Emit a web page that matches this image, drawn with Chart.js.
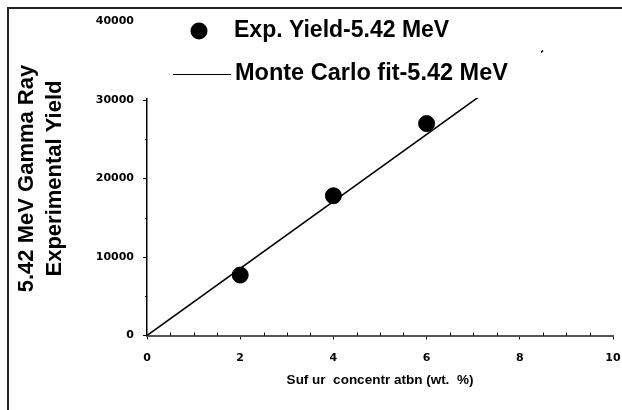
<!DOCTYPE html>
<html>
<head>
<meta charset="utf-8">
<script src="https://cdn.jsdelivr.net/npm/chart.js@4.4.1/dist/chart.umd.min.js"></script>
<style>
  html, body { margin: 0; padding: 0; background: #fff; }
  #wrap { width: 622px; height: 410px; position: relative; }
</style>
</head>
<body>
<div id="wrap"><canvas id="c" width="622" height="410"></canvas></div>
<script>
// Measured yields of the 5.42 MeV gamma line vs. sulfur content
const sulfurWt = [2, 4, 6];
const expYield = [7700, 17800, 27000];

// Monte Carlo fit line end points
const fitX = [0, 8.5];
const fitY = [0, 36300];

// Axis tick values
const xTicks = [0, 2, 4, 6, 8, 10];
const yTicks = [0, 10000, 20000, 30000, 40000];
const xMinorStep = 0.5;
const yMinorStep = 5000;

const seriesNames = ['Exp. Yield-5.42 MeV', 'Monte Carlo fit-5.42 MeV'];
const yTitle = ['5.42 MeV Gamma Ray', 'Experimental Yield'];
const xTitle = 'Suf ur  concentr atbn (wt.  %)';

const tickFont = { family: 'DejaVu Sans', weight: 'bold', size: 11 };
const bigFont = '"Liberation Sans", Arial, sans-serif';

// Small minor tick marks along both axes
const minorTicks = {
  id: 'minorTicks',
  beforeDatasetsDraw(chart) {
    const { ctx, scales: { x, y } } = chart;
    ctx.save();
    ctx.strokeStyle = '#000';
    ctx.lineWidth = 1;
    ctx.beginPath();
    for (let v = x.min; v <= x.max + 1e-9; v += xMinorStep) {
      if (xTicks.includes(v)) continue;
      const px = Math.round(x.getPixelForValue(v)) + 0.5;
      ctx.moveTo(px, y.bottom);
      ctx.lineTo(px, y.bottom - 3);
    }
    for (let v = y.min; v <= y.max + 1e-9; v += yMinorStep) {
      if (yTicks.includes(v)) continue;
      const py = Math.round(y.getPixelForValue(v)) + 0.5;
      ctx.moveTo(x.left, py);
      ctx.lineTo(x.left - 2, py);
    }
    ctx.stroke();
    ctx.restore();
  }
};

// Legend panel with an opaque background sitting over the upper plot
const legendPanel = {
  id: 'legendPanel',
  afterDatasetsDraw(chart) {
    const { ctx } = chart;
    ctx.save();
    ctx.fillStyle = '#fff';
    ctx.fillRect(139, 10, 541 - 139, 98 - 10);

    ctx.fillStyle = '#000';
    ctx.beginPath();
    ctx.arc(199, 31, 8.5, 0, Math.PI * 2);
    ctx.fill();

    ctx.strokeStyle = '#000';
    ctx.lineWidth = 1;
    ctx.beginPath();
    ctx.moveTo(173, 74.5);
    ctx.lineTo(231, 74.5);
    ctx.stroke();

    ctx.font = 'bold 23px ' + bigFont;
    ctx.textBaseline = 'middle';
    ctx.textAlign = 'left';
    ctx.fillText(seriesNames[0], 234, 31);
    ctx.font = 'bold 23.5px ' + bigFont;
    ctx.fillText(seriesNames[1], 235, 74);
    ctx.restore();
  }
};

// Outer frame lines at the top and left
const frame = {
  id: 'frame',
  afterDraw(chart) {
    const { ctx } = chart;
    ctx.save();
    ctx.strokeStyle = '#222';
    ctx.lineWidth = 2;
    ctx.beginPath();
    ctx.moveTo(8, 410);
    ctx.lineTo(8, 8);
    ctx.lineTo(622, 8);
    ctx.stroke();
    ctx.restore();
  }
};

new Chart(document.getElementById('c'), {
  type: 'scatter',
  data: {
    datasets: [
      {
        label: seriesNames[0],
        data: sulfurWt.map((v, i) => ({ x: v, y: expYield[i] })),
        backgroundColor: '#000',
        borderColor: '#000',
        pointRadius: 8,
        pointBorderWidth: 1,
        showLine: false
      },
      {
        label: seriesNames[1],
        data: fitX.map((v, i) => ({ x: v, y: fitY[i] })),
        borderColor: '#000',
        borderWidth: 1.6,
        pointRadius: 0,
        showLine: true,
        fill: false
      }
    ]
  },
  options: {
    responsive: false,
    animation: false,
    devicePixelRatio: 1,
    layout: { padding: { left: 0, right: 6, top: 21.5, bottom: 0 } },
    plugins: { legend: { display: false }, tooltip: { enabled: false } },
    scales: {
      x: {
        type: 'linear',
        min: 0,
        max: 10,
        afterBuildTicks: s => { s.ticks = xTicks.map(v => ({ value: v })); },
        afterFit: s => { s.height = 74.5; s.paddingLeft = 0; s.paddingRight = 0; },
        ticks: { font: tickFont, color: '#000', padding: 12, maxRotation: 0, callback: v => String(v) },
        grid: { drawOnChartArea: false, drawTicks: true, tickLength: 4, color: '#000' },
        border: { color: '#555', width: 2 },
        title: {
          display: true,
          text: xTitle,
          color: '#000',
          font: { family: bigFont, weight: 'bold', size: 13.5 },
          padding: { top: 0, bottom: 22 }
        }
      },
      y: {
        type: 'linear',
        min: 0,
        max: 40000,
        afterBuildTicks: s => { s.ticks = yTicks.map(v => ({ value: v })); },
        afterFit: s => { s.width = 147; },
        ticks: { font: tickFont, color: '#000', padding: 9, callback: v => String(v) },
        grid: { drawOnChartArea: false, drawTicks: true, tickLength: 4, color: '#000' },
        border: { color: '#000', width: 1.5 },
        title: {
          display: true,
          text: yTitle,
          color: '#000',
          font: { family: bigFont, weight: 'bold', size: 22, lineHeight: 28 / 22 },
          padding: { top: 13, bottom: 0 }
        }
      }
    }
  },
  plugins: [minorTicks, legendPanel, frame]
});
</script>
</body>
</html>
